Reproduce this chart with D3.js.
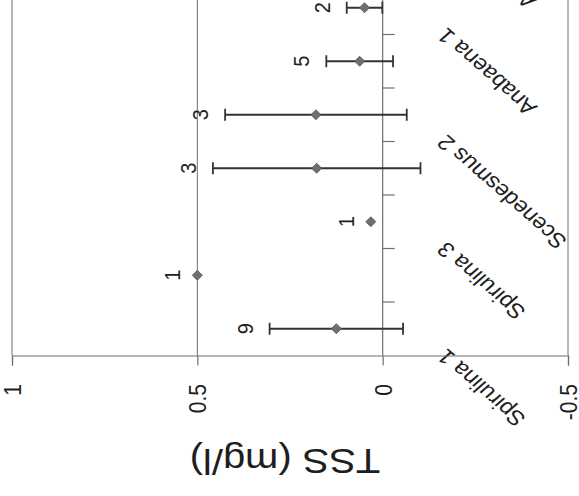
<!DOCTYPE html>
<html><head><meta charset="utf-8">
<script src="https://cdn.jsdelivr.net/npm/d3@7"></script>
<style>html,body{margin:0;padding:0;background:#fff;} svg{display:block;}</style>
</head><body>
<svg id="chart" width="579" height="496"></svg>
<script>
// ---- data ----
const categories = ["Spirulina 1","Spirulina 2","Spirulina 3","Scenedesmus 1","Scenedesmus 2","Scenedesmus 3","Anabaena 1","Anabaena 2","Anabaena 3"];
const meanTSS = [0.125, 0.50, 0.032, 0.178, 0.18, 0.062, 0.049, null, null];
const errTSS  = [0.18, 0, 0, 0.28, 0.245, 0.09, 0.048, null, null];
const nLabels = ["9", "1", "1", "3", "3", "5", "2", null, null];
const shownCategoryLabels = ["Spirulina 1","Spirulina 3","Scenedesmus 2","Anabaena 1","Anabaena 3"];
const valueTicks = [1, 0.5, 0, -0.5];
const gridValues = [1, 0.5, -0.5];
const axisTitle = "TSS (mg/l)";

// ---- layout ----
const FONT = "'Liberation Sans', Arial, sans-serif";
const STRETCH = 1.14;           // the scan is wider than it is tall
const axisY = 355.5, step = 53.5;
const svg = d3.select("#chart");

const x = d3.scaleLinear().domain([1, -0.5]).range([12, 568]);
const y = d3.scaleBand().domain(categories)
  .range([axisY, axisY - step * categories.length]);
const cy = c => y(c) + y.bandwidth() / 2;
const topY = axisY - step * categories.length;

const data = categories.map((c, i) => ({c, m: meanTSS[i], e: errTSS[i], n: nLabels[i]}))
  .filter(d => d.m !== null);

// gridlines
svg.append("g").selectAll("line").data(gridValues).join("line")
  .attr("x1", d => x(d)).attr("x2", d => x(d))
  .attr("y1", topY).attr("y2", axisY)
  .attr("stroke", "#6e6e6e").attr("stroke-width", 1);

// category axis (crosses at 0)
const catAxis = svg.append("g");
catAxis.append("line")
  .attr("x1", x(0)).attr("x2", x(0)).attr("y1", topY).attr("y2", axisY)
  .attr("stroke", "#6e6e6e").attr("stroke-width", 1.2);
catAxis.selectAll("line.tk").data(categories).join("line").attr("class", "tk")
  .attr("x1", x(0)).attr("x2", x(0) + 12)
  .attr("y1", d => y(d)).attr("y2", d => y(d))
  .attr("stroke", "#6e6e6e").attr("stroke-width", 1.2);

// category labels
svg.append("g").selectAll("text").data(shownCategoryLabels).join("text")
  .attr("transform", d => `translate(447,${cy(d) + 19}) scale(${STRETCH},1) rotate(-135)`)
  .attr("text-anchor", "end")
  .attr("font-family", FONT).attr("font-size", 21).attr("fill", "#1e1e1e")
  .text(d => d);

// value axis
const vAxis = svg.append("g").attr("transform", `translate(0,${axisY})`)
  .call(d3.axisBottom(x).tickValues(valueTicks).tickSize(10).tickFormat(d => String(d)));
vAxis.select(".domain").attr("stroke", "#6e6e6e").attr("stroke-width", 1.2);
vAxis.selectAll(".tick line").attr("stroke", "#6e6e6e").attr("stroke-width", 1.2);
vAxis.selectAll(".tick text")
  .attr("y", null).attr("dy", "0.35em")
  .attr("transform", `translate(0,28.5) scale(${STRETCH},1) rotate(-90)`)
  .attr("text-anchor", "end")
  .attr("font-family", FONT).attr("font-size", 21).attr("fill", "#1e1e1e");

// axis title
svg.append("text")
  .attr("transform", `translate(285,449) scale(${STRETCH},1) rotate(180)`)
  .attr("text-anchor", "middle")
  .attr("font-family", FONT).attr("font-size", 35).attr("fill", "#1e1e1e")
  .text(axisTitle);

// error bars
const eb = svg.append("g").attr("stroke", "#333").attr("stroke-width", 1.8);
const withErr = data.filter(d => d.e > 0);
eb.selectAll("line.bar").data(withErr).join("line").attr("class", "bar")
  .attr("x1", d => x(d.m + d.e)).attr("x2", d => x(d.m - d.e))
  .attr("y1", d => cy(d.c)).attr("y2", d => cy(d.c));
eb.selectAll("line.capA").data(withErr).join("line").attr("class", "capA")
  .attr("x1", d => x(d.m + d.e)).attr("x2", d => x(d.m + d.e))
  .attr("y1", d => cy(d.c) - 6).attr("y2", d => cy(d.c) + 6);
eb.selectAll("line.capB").data(withErr).join("line").attr("class", "capB")
  .attr("x1", d => x(d.m - d.e)).attr("x2", d => x(d.m - d.e))
  .attr("y1", d => cy(d.c) - 6).attr("y2", d => cy(d.c) + 6);

// markers
svg.append("g").selectAll("path").data(data).join("path")
  .attr("d", d3.symbol(d3.symbolSquare, 50))
  .attr("transform", d => `translate(${x(d.m)},${cy(d.c)}) rotate(45)`)
  .attr("fill", "#6f6f6f").attr("stroke", "#555").attr("stroke-width", 0.8);

// count labels
svg.append("g").selectAll("text").data(data).join("text")
  .attr("transform", d => `translate(${x(d.m + d.e) - 25},${cy(d.c)}) scale(${STRETCH},1) rotate(-90)`)
  .attr("text-anchor", "middle").attr("dy", "0.35em")
  .attr("font-family", FONT).attr("font-size", 20).attr("fill", "#1e1e1e")
  .text(d => d.n);
</script>
</body></html>
